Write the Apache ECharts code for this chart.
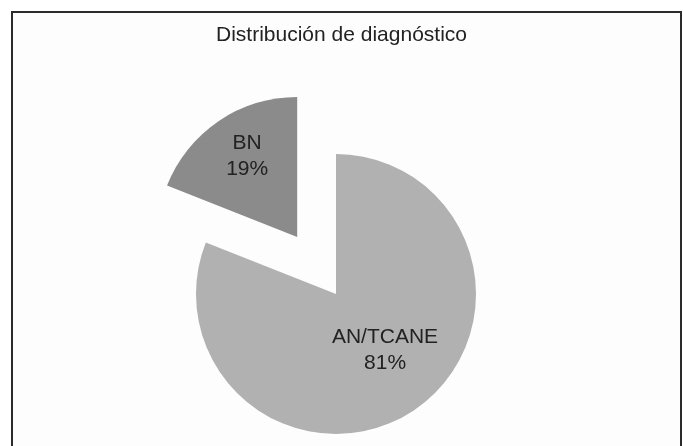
<!DOCTYPE html>
<html>
<head>
<meta charset="utf-8">
<script src="https://cdn.jsdelivr.net/npm/echarts@6/dist/echarts.min.js"></script>
<style>
  html, body { margin: 0; padding: 0; background: #fff; }
  #container { width: 683px; height: 446px; }
</style>
</head>
<body>
<div id="container"></div>
<script>
var chartTitle = 'Distribución de diagnóstico';
var categories = ['AN/TCANE', 'BN'];
var values = [81, 19];
var colors = ['#b1b1b1', '#8b8b8b'];

var dom = document.getElementById('container');
var myChart = echarts.init(dom);

var data = categories.map(function (name, i) {
    return {
        name: name,
        value: values[i],
        selected: name === 'BN',
        itemStyle: { color: colors[i] }
    };
});

// small nudges so the labels sit where Excel put them
var labelShift = [[8, -4], [-9, -20]];

var option = {
    backgroundColor: '#ffffff',
    animation: false,
    graphic: [{
        type: 'rect',
        left: 11,
        top: 11,
        shape: { width: 669, height: 460 },
        style: { fill: '#fdfdfd', stroke: '#2b2b2b', lineWidth: 2 },
        z: -1
    }],
    title: {
        text: chartTitle,
        left: 'center',
        top: 20,
        textStyle: {
            fontFamily: 'Liberation Sans',
            fontSize: 21,
            fontWeight: 'normal',
            color: '#222'
        }
    },
    series: [{
        type: 'pie',
        center: [336, 294],
        radius: 140,
        startAngle: 90,
        clockwise: true,
        selectedMode: 'single',
        selectedOffset: 69,
        label: {
            show: true,
            position: 'inside',
            formatter: '{b}\n{c}%',
            fontFamily: 'Liberation Sans',
            fontSize: 21,
            lineHeight: 26,
            color: '#222'
        },
        labelLayout: function (params) {
            var s = labelShift[params.dataIndex];
            return { dx: s[0], dy: s[1] };
        },
        labelLine: { show: false },
        emphasis: { disabled: true },
        data: data
    }]
};
myChart.setOption(option);
</script>
</body>
</html>
